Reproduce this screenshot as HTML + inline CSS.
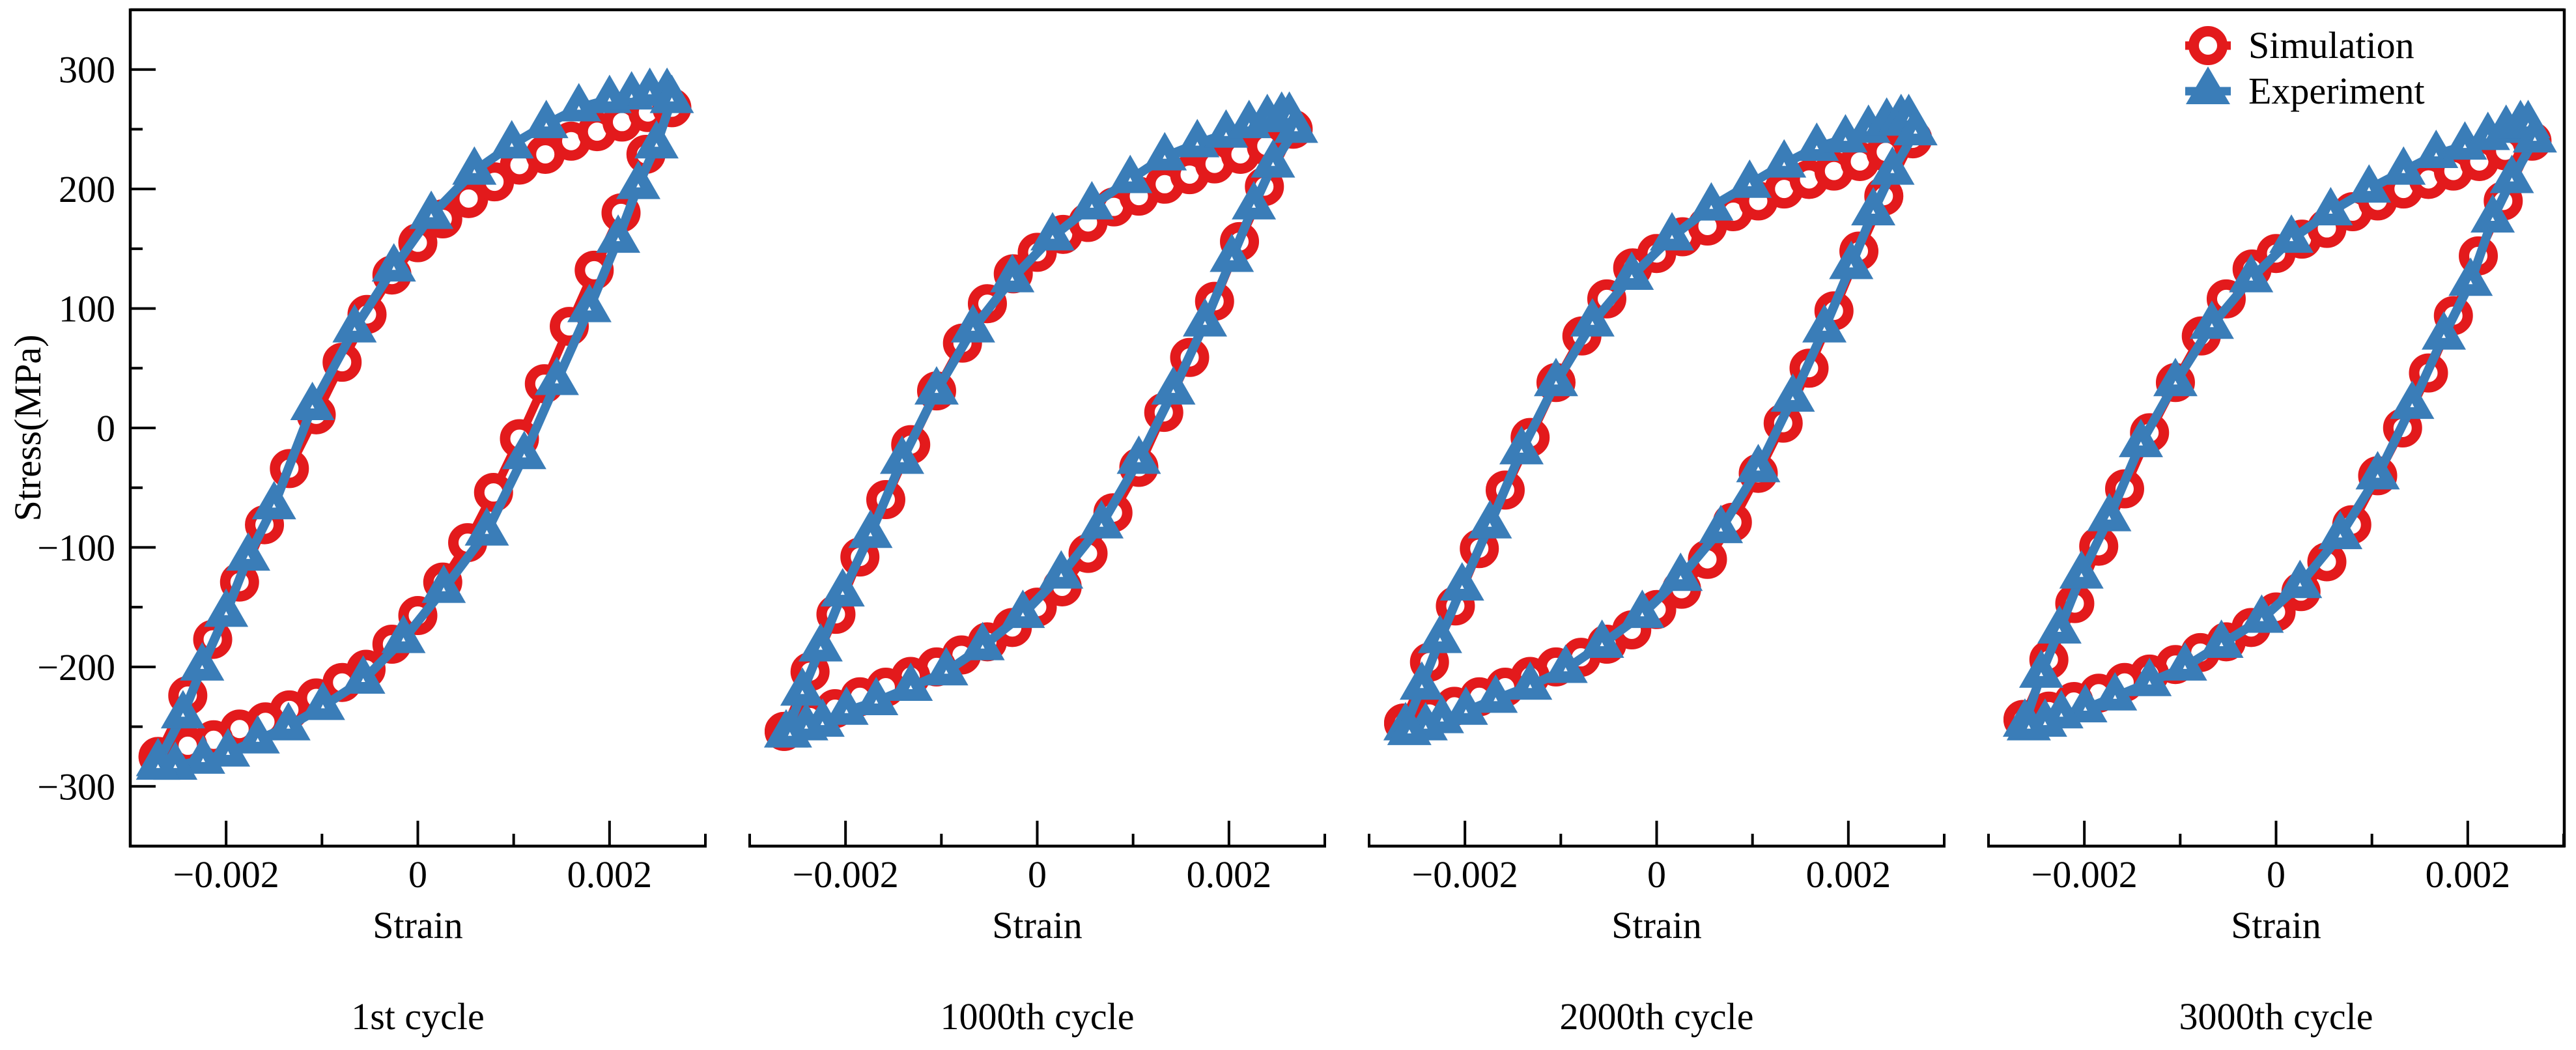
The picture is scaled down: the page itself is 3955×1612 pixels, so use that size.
<!DOCTYPE html>
<html><head><meta charset="utf-8"><style>
html,body{margin:0;padding:0;background:#fff;}
svg{display:block;}
text{font-family:"Liberation Serif",serif;fill:#000;}
</style></head><body>
<svg id="chart" width="3955" height="1612" viewBox="0 0 3955 1612" xmlns="http://www.w3.org/2000/svg">
<g id="axes"></g>
<g id="series"></g>
<g id="legend">
  <line x1="3355" y1="70" x2="3425" y2="70" stroke="#e31a1c" stroke-width="13"/>
  <circle cx="3390" cy="70" r="22" fill="#fff" stroke="#e31a1c" stroke-width="16"/>
  <text x="3452" y="89" font-size="58">Simulation</text>
  <line x1="3355" y1="140" x2="3425" y2="140" stroke="#3a7db8" stroke-width="13"/>
  <polygon points="3390,102 3424,160 3356,160" fill="#3a7db8"/>
  <text x="3452" y="159" font-size="58">Experiment</text>
</g>
</svg>
<script>
const panelLefts = [200, 1151, 2102, 3053];
const panelTitles = ["1st cycle", "1000th cycle", "2000th cycle", "3000th cycle"];
const yTicks = [-300, -200, -100, 0, 100, 200, 300];
const yMinor = [-350, -250, -150, -50, 50, 150, 250];
const xTicks = [-0.002, 0, 0.002];
const xTickLabels = ["\u22120.002", "0", "0.002"];
const xMinor = [-0.003, -0.001, 0.001, 0.003];

// strain in units of 1e-3, stress in MPa
const sim1X = [-2.71,-2.40,-2.14,-1.86,-1.60,-1.34,-1.06,-0.79,-0.53,-0.27,0,0.26,0.53,0.80,1.06,1.33,1.60,1.87,2.13,2.40,2.65,2.38,2.12,1.84,1.58,1.32,1.06,0.79,0.52,0.26,0,-0.27,-0.54,-0.79,-1.06,-1.34,-1.59,-1.86,-2.13,-2.40,-2.71];
const sim1Y = [-275,-224,-177,-129,-81,-34,11,55,95,128,155,175,192,206,220,229,240,248,256,264,268,229,180,132,85,37,-9,-54,-96,-129,-157,-181,-202,-213,-226,-236,-246,-252,-261,-266,-275];
const exp1X = [-2.71,-2.45,-2.25,-2.0,-1.77,-1.5,-1.1,-0.66,-0.25,0.14,0.59,0.98,1.34,1.68,2.0,2.23,2.42,2.6,2.65,2.49,2.3,2.09,1.79,1.45,1.11,0.72,0.27,-0.15,-0.57,-0.99,-1.35,-1.67,-1.98,-2.24,-2.53,-2.71];
const exp1Y = [-280,-240,-200,-155,-108,-65,18,83,134,178,215,237,254,268,275,278,281,281,275,237,203,158,100,39,-23,-87,-135,-177,-211,-233,-250,-261,-272,-278,-283,-283];

const simX = [-2.64,-2.37,-2.10,-1.85,-1.58,-1.32,-1.05,-0.78,-0.52,-0.25,0,0.27,0.53,0.80,1.06,1.33,1.59,1.85,2.12,2.39,2.67,2.37,2.11,1.85,1.59,1.32,1.06,0.79,0.53,0.26,0,-0.26,-0.52,-0.79,-1.05,-1.32,-1.58,-1.85,-2.11,-2.37,-2.64];
const sim2Y = [-254,-204,-156,-108,-60,-14,31,71,104,129,147,162,172,185,194,204,212,221,229,236,250,202,156,106,59,13,-33,-71,-105,-133,-150,-167,-179,-190,-200,-208,-217,-225,-235,-242,-254];
const sim3Y = [-247,-196,-149,-101,-52,-8,38,77,108,134,146,160,169,181,190,200,208,215,223,231,242,194,148,98,50,4,-38,-79,-110,-135,-152,-169,-181,-192,-200,-208,-217,-225,-233,-239,-247];
const sim4Y = [-244,-194,-147,-99,-51,-4,38,77,108,133,146,158,167,181,190,200,208,215,223,232,240,190,144,94,46,0,-40,-81,-112,-137,-154,-167,-179,-188,-198,-206,-213,-222,-229,-237,-244];

const expX = [-2.62,-2.45,-2.26,-2.03,-1.74,-1.41,-1.05,-0.67,-0.26,0.16,0.57,0.97,1.33,1.67,1.97,2.21,2.40,2.55,2.63,2.70,2.46,2.26,2.03,1.75,1.42,1.06,0.67,0.25,-0.15,-0.57,-0.95,-1.32,-1.68,-1.99,-2.24,-2.41,-2.58];
const exp2Y = [-256,-221,-184,-138,-89,-27,31,83,125,160,186,208,227,238,246,254,259,261,261,250,221,186,142,88,31,-27,-81,-123,-156,-183,-204,-217,-229,-237,-247,-250,-256];
const exp3Y = [-250,-216,-177,-133,-81,-19,38,88,127,160,185,204,221,235,242,250,256,259,259,248,215,181,136,83,25,-34,-85,-125,-156,-181,-202,-216,-227,-237,-244,-250,-254];
const exp4Y = [-247,-206,-169,-123,-75,-13,38,86,125,158,181,200,215,229,236,244,250,254,254,242,208,175,122,77,19,-40,-90,-131,-160,-181,-200,-213,-225,-235,-240,-247,-250];

const simSeries = [[sim1X, sim1Y], [simX, sim2Y], [simX, sim3Y], [simX, sim4Y]];
const expSeries = [[exp1X, exp1Y], [expX, exp2Y], [expX, exp3Y], [expX, exp4Y]];

const NS = "http://www.w3.org/2000/svg";
const TOP = 15, BOT = 1299, PW = 883, RIGHT = 3937;
function yScale(v){ return BOT - (v + 350) / 700 * (BOT - TOP); }
function xScale(p, v){ return panelLefts[p] + (v + 0.003) / 0.006 * PW; }
function mk(tag, attrs, parent){ const e = document.createElementNS(NS, tag); for (const k in attrs) e.setAttribute(k, attrs[k]); parent.appendChild(e); return e; }
const axes = document.getElementById('axes');
const series = document.getElementById('series');

let e = mk('line', {x1:200, y1:TOP, x2:RIGHT, y2:TOP, stroke:'#000', 'stroke-width':4.5}, axes);


e = mk('line', {x1:RIGHT, y1:TOP-2, x2:RIGHT, y2:BOT+2, stroke:'#000', 'stroke-width':4.5}, axes);


e = mk('line', {x1:200, y1:TOP-2, x2:200, y2:BOT+2, stroke:'#000', 'stroke-width':4.5}, axes);


yTicks.forEach(v => {
  const y = yScale(v);
  let t = mk('line', {x1:200, y1:y, x2:239, y2:y, stroke:'#000', 'stroke-width':4}, axes);
  
  
  let l = mk('text', {x:177, y:y+20, 'font-size':58, 'text-anchor':'end'}, axes);
  l.textContent = v < 0 ? '\u2212' + Math.abs(v) : String(v);
  
  
});
yMinor.forEach(v => {
  const y = yScale(v);
  let t = mk('line', {x1:200, y1:y, x2:219, y2:y, stroke:'#000', 'stroke-width':4}, axes);
  
  
});
let yl = mk('text', {x:0, y:0, 'font-size':58, 'text-anchor':'middle', transform:'translate(62,657) rotate(-90)'}, axes);
yl.textContent = 'Stress(MPa)';



panelLefts.forEach((L, p) => {
  let a = mk('line', {x1:L-2, y1:BOT, x2:L+PW+2, y2:BOT, stroke:'#000', 'stroke-width':4.5}, axes);
  
  
  xTicks.forEach((v, i) => {
    const x = xScale(p, v);
    let t = mk('line', {x1:x, y1:BOT, x2:x, y2:BOT-39, stroke:'#000', 'stroke-width':4}, axes);
    
    
    let l = mk('text', {x:x, y:1362, 'font-size':58, 'text-anchor':'middle'}, axes);
    l.textContent = xTickLabels[i];
    
    
  });
  xMinor.forEach(v => {
    const x = xScale(p, v);
    let t = mk('line', {x1:x, y1:BOT, x2:x, y2:BOT-19, stroke:'#000', 'stroke-width':4}, axes);
    
    
  });
  const cx = xScale(p, 0);
  let xt = mk('text', {x:cx, y:1440, 'font-size':58, 'text-anchor':'middle'}, axes);
  xt.textContent = 'Strain';
  
  
  let ct = mk('text', {x:cx, y:1580, 'font-size':58, 'text-anchor':'middle'}, axes);
  ct.textContent = panelTitles[p];
  
  

  const [sx, sy] = simSeries[p];
  const simPts = sx.map((v, i) => xScale(p, v/1000) + ',' + yScale(sy[i])).join(' ');
  let sl = mk('polyline', {points:simPts, fill:'none', stroke:'#e31a1c', 'stroke-width':13, 'stroke-linejoin':'round'}, series);
  
  
  sx.forEach((v, i) => {
    let c = mk('circle', {cx:xScale(p, v/1000), cy:yScale(sy[i]), r:22, fill:'#fff', stroke:'#e31a1c', 'stroke-width':16}, series);
    
    
  });
  const [ex, ey] = expSeries[p];
  const expPts = ex.map((v, i) => xScale(p, v/1000) + ',' + yScale(ey[i])).join(' ');
  let el = mk('polyline', {points:expPts, fill:'none', stroke:'#3a7db8', 'stroke-width':14, 'stroke-linejoin':'round'}, series);
  
  
  ex.forEach((v, i) => {
    const x = xScale(p, v/1000), y = yScale(ey[i]);
    let t = mk('polygon', {points:`${x},${y-38} ${x+34},${y+21} ${x-34},${y+21}`, fill:'#3a7db8'}, series);
    
    
    let h = mk('polygon', {points:`${x},${y-3} ${x+3},${y+3} ${x-3},${y+3}`, fill:'#fff'}, series);
    
    
  });
});
</script>
</body></html>
